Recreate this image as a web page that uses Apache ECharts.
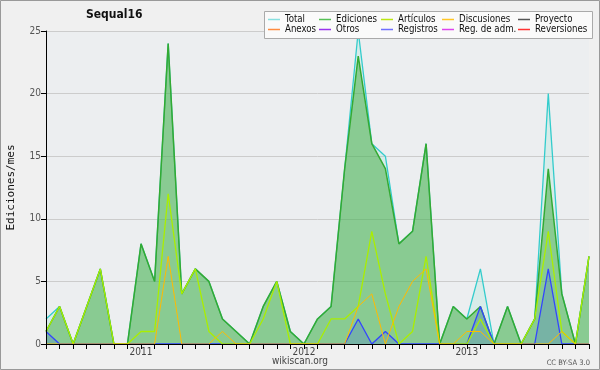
<!DOCTYPE html>
<html>
<head>
<meta charset="utf-8">
<script src="https://cdn.jsdelivr.net/npm/echarts@6/dist/echarts.min.js"></script>
<style>
html,body{margin:0;padding:0;background:#f0f0f0;}
#c{width:600px;height:370px;}
</style>
</head>
<body>
<div id="c"></div>
<script>
var months = ['2010-06','2010-07','2010-08','2010-09','2010-10','2010-11','2010-12',
  '2011-01','2011-02','2011-03','2011-04','2011-05','2011-06','2011-07','2011-08','2011-09','2011-10','2011-11','2011-12',
  '2012-01','2012-02','2012-03','2012-04','2012-05','2012-06','2012-07','2012-08','2012-09','2012-10','2012-11','2012-12',
  '2013-01','2013-02','2013-03','2013-04','2013-05','2013-06','2013-07','2013-08','2013-09','2013-10'];
var total       = [2,3,0,3,6,0,0,8,5,24,4,6,5,2,1,0,3,5,1,0,2,3,14,25,16,15,8,9,16,0,3,2,6,0,3,0,2,20,4,0,7];
var ediciones   = [1,3,0,3,6,0,0,8,5,24,4,6,5,2,1,0,3,5,1,0,2,3,14,23,16,14,8,9,16,0,3,2,3,0,3,0,2,14,4,0,7];
var articulos   = [1,3,0,3,6,0,0,1,1,12,4,6,1,0,0,0,2,5,0,0,0,2,2,3,9,4,0,1,7,0,0,0,2,0,0,0,2,9,1,0,7];
var discusiones = [0,0,0,0,0,0,0,0,0,7,0,0,0,1,0,0,0,0,0,0,0,0,0,3,4,0,3,5,6,0,0,1,1,0,0,0,0,0,1,0,0];
var registros   = [1,0,0,0,0,0,0,0,0,0,0,0,0,0,0,0,0,0,0,0,0,0,0,2,0,1,0,0,0,0,0,0,3,0,0,0,0,6,0,0,0];
var yTicks = [0,5,10,15,20,25];
var legendCols = [['Total','Anexos'],['Ediciones','Otros'],['Artículos','Registros'],['Discusiones','Reg. de adm.'],['Proyecto','Reversiones']];
var legendColors = {'Total':'#88e0e0','Anexos':'#ff8c40','Ediciones':'#55c055','Otros':'#9933ee',
  'Artículos':'#bbe611','Registros':'#6f6fff','Discusiones':'#ffc626','Reg. de adm.':'#dd44ee',
  'Proyecto':'#555555','Reversiones':'#ff3333'};

var FONT = '"DejaVu Sans Condensed", "DejaVu Sans"';
var chart = echarts.init(document.getElementById('c'), null, {renderer:'canvas'});

function lineSeries(name, data, color, width, area, z){
  var s = {name:name, type:'line', data:data, symbol:'none', smooth:false, z:z, yAxisIndex:0,
    lineStyle:{color:color, width:width}, itemStyle:{color:color}, emphasis:{disabled:true}, animation:false};
  if (area) s.areaStyle = {color:area, opacity:1, origin:'start'};
  return s;
}

var legendX = [268, 319, 381, 442, 518];
var legends = legendCols.map(function(col, i){
  return {orient:'vertical', left:legendX[i], top:14.5, itemWidth:12, itemHeight:1.5, itemGap:0,
    icon:'rect', selectedMode:false,
    textStyle:{fontFamily:FONT, fontSize:9.6, color:'#111', lineHeight:10, padding:[0,0,0,0]},
    padding:0,
    data: col.map(function(n){ return {name:n, icon:'rect', itemStyle:{color:legendColors[n], opacity:1}}; })};
});

var yMin = yTicks[0], yMax = yTicks[yTicks.length-1];
var option = {
  backgroundColor:'#f0f0f0',
  animation:false,
  title:{text:'Sequal16', left:86, top:9, padding:0, textStyle:{fontFamily:FONT, fontWeight:'bold', fontSize:12, color:'#111'}},
  legend: legends,
  grid:{left:46, right:11, top:31, bottom:26, show:true, backgroundColor:'#eceef0', borderWidth:0, outerBoundsMode:'none', containLabel:false},
  xAxis:{type:'category', data:months, boundaryGap:false, z:10,
    axisLine:{show:true, onZero:false, lineStyle:{color:'#000', width:1}},
    axisTick:{show:true, inside:false, interval:0, length:5, lineStyle:{color:'#000', width:1}},
    axisLabel:{interval:0, margin:3, color:'#444', fontFamily:FONT, fontSize:10,
      formatter:function(v){ return v.slice(5) === '01' ? v.slice(0,4) : ''; }},
    splitLine:{show:false}},
  yAxis:[
    {type:'value', min:yMin, max:yMax, interval:5, z:10, position:'left',
      name:'Ediciones/mes', nameLocation:'middle', nameGap:29, nameRotate:90,
      nameTextStyle:{fontFamily:'DejaVu Sans Mono', fontSize:11, color:'#111'},
      axisLine:{show:true, lineStyle:{color:'#000'}},
      axisTick:{show:true, length:5, lineStyle:{color:'#000'}},
      axisLabel:{margin:5, color:'#555', fontFamily:FONT, fontSize:10},
      splitLine:{show:false}},
    {type:'value', min:yMin, max:yMax, interval:5, z:0, position:'left', offset:0,
      axisLine:{show:false}, axisTick:{show:false}, axisLabel:{show:false},
      splitLine:{show:true, lineStyle:{color:'#cccccc', width:1}}}
  ],
  series:[
    lineSeries('Total', total, '#33cccc', 1.3, 'rgba(120,225,205,0.18)', 2),
    lineSeries('Ediciones', ediciones, '#33aa33', 1.5, 'rgba(60,170,60,0.5)', 3),
    lineSeries('Registros', registros, '#3344ff', 1.3, 'rgba(40,70,255,0.18)', 4),
    lineSeries('Artículos', articulos, '#aaee00', 1.3, null, 5),
    lineSeries('Discusiones', discusiones, '#ffbb00', 1, null, 6),
    lineSeries('Proyecto', [], '#555555', 1, null, 1),
    lineSeries('Anexos', [], '#ff8c40', 1, null, 1),
    lineSeries('Otros', [], '#9933ee', 1, null, 1),
    lineSeries('Reg. de adm.', [], '#dd44ee', 1, null, 1),
    lineSeries('Reversiones', [], '#ff3333', 1, null, 1)
  ],
  graphic:[
    {type:'rect', z:3, shape:{x:264.5, y:11.5, width:328, height:27}, style:{fill:'#fafafa', stroke:'#aaaaaa', lineWidth:1}},
    {type:'rect', z:100, shape:{x:0.5, y:0.5, width:599, height:369}, style:{fill:'none', stroke:'#999999', lineWidth:1}},
    {type:'text', z:100, x:300, y:361, style:{text:'wikiscan.org', font:'10px "DejaVu Sans Condensed", "DejaVu Sans"', fill:'#444', align:'center', verticalAlign:'middle'}},
    {type:'text', z:100, x:590, y:363, style:{text:'CC BY-SA 3.0', font:'7.5px "DejaVu Sans Condensed", "DejaVu Sans"', fill:'#555', align:'right', verticalAlign:'middle'}}
  ]
};
chart.setOption(option);
</script>
</body>
</html>
